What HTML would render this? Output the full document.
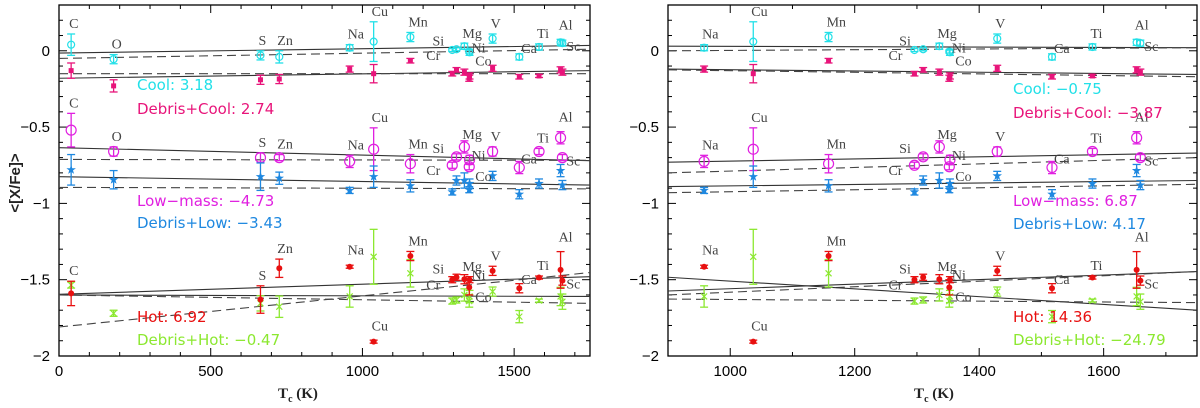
<!DOCTYPE html>
<html><head><meta charset="utf-8">
<style>
html,body{margin:0;padding:0;background:#fff;}
svg{display:block;font-family:"Liberation Sans",sans-serif;}
.lab{font-family:"Liberation Serif",serif;font-size:14px;fill:#444;}
.tick{font-size:15px;fill:#000;}
.leg{font-size:15px;font-family:"DejaVu Sans","Liberation Sans",sans-serif;}
</style></head>
<body>
<svg id="chart" width="1200" height="408" viewBox="0 0 1200 408" xmlns="http://www.w3.org/2000/svg"></svg>
<script>
const elems = ['C','O','S','Zn','Na','Cu','Mn','Cr','Si','Mg','Ni','Co','V','Ca','Ti','Al','Sc'];
const tc    = [40,180,664,726,958,1037,1158,1296,1310,1336,1353,1352,1429,1517,1582,1653,1659];
const cool      = [0.04,-0.055,-0.03,-0.04,0.02,0.06,0.09,0.005,0.01,0.03,-0.01,-0.005,0.08,-0.04,0.025,0.055,0.05];
const coolErr   = [0.07,0.03,0.03,0.04,0.02,0.13,0.03,0.01,0.01,0.02,0.02,0.01,0.03,0.02,0.02,0.02,0.02];
const dCool     = [-0.13,-0.23,-0.19,-0.185,-0.12,-0.15,-0.065,-0.15,-0.125,-0.14,-0.165,-0.18,-0.115,-0.17,-0.165,-0.125,-0.14];
const dCoolErr  = [0.05,0.04,0.03,0.03,0.02,0.06,0.015,0.015,0.015,0.02,0.02,0.02,0.02,0.015,0.01,0.02,0.02];
const low       = [-0.52,-0.66,-0.70,-0.70,-0.725,-0.645,-0.74,-0.75,-0.695,-0.63,-0.715,-0.76,-0.66,-0.765,-0.66,-0.57,-0.70];
const lowErr    = [0.11,0.03,0.03,0.02,0.04,0.14,0.06,0.02,0.02,0.04,0.03,0.02,0.03,0.04,0.02,0.04,0.02];
const dLow      = [-0.78,-0.845,-0.825,-0.835,-0.915,-0.825,-0.885,-0.925,-0.85,-0.85,-0.87,-0.91,-0.82,-0.94,-0.87,-0.785,-0.88];
const dLowErr   = [0.1,0.06,0.09,0.04,0.02,0.07,0.04,0.02,0.03,0.05,0.03,0.02,0.03,0.03,0.03,0.04,0.03];
const hot       = [-1.59,null,-1.63,-1.425,-1.415,-1.906,-1.345,-1.50,-1.484,-1.497,-1.50,-1.55,-1.442,-1.556,-1.486,-1.436,-1.506];
const hotErr    = [0.08,0,0.09,0.06,0.01,0.01,0.03,0.02,0.02,0.03,0.02,0.05,0.03,0.03,0.01,0.12,0.03];
const dHot      = [-1.535,-1.72,-1.655,-1.677,-1.61,-1.35,-1.458,-1.64,-1.633,-1.60,-1.61,-1.64,-1.578,-1.742,-1.637,-1.61,-1.644];
const dHotErr   = [0.02,0.02,0.05,0.07,0.07,0.18,0.09,0.02,0.02,0.04,0.04,0.04,0.03,0.04,0.01,0.06,0.05];
const fitLeftX  = [0,1750];
const fitRightX = [900,1750];
const fitsLeft = {
  coolS:[-0.015,0.035], coolD:[-0.05,0.01], dCoolS:[-0.18,-0.13], dCoolD:[-0.15,-0.15],
  lowS:[-0.635,-0.72], lowD:[-0.712,-0.718], dLowS:[-0.825,-0.88], dLowD:[-0.895,-0.905],
  hotS:[-1.596,-1.48], hotD:[-1.81,-1.453], dHotS:[-1.60,-1.61], dHotD:[-1.60,-1.655]};
const fitsRight = {
  coolS:[0.03,0.02], coolD:[0.0,0.02], dCoolS:[-0.12,-0.155], dCoolD:[-0.125,-0.17],
  lowS:[-0.73,-0.67], lowD:[-0.80,-0.70], dLowS:[-0.89,-0.85], dLowD:[-0.93,-0.875],
  hotS:[-1.574,-1.447], hotD:[-1.60,-1.447], dHotS:[-1.484,-1.70], dHotD:[-1.627,-1.65]};
const legLeft  = ['Cool: 3.18','Debris+Cool: 2.74','Low\u2212mass: \u22124.73','Debris+Low: \u22123.43','Hot: 6.92','Debris+Hot: \u22120.47'];
const legRight = ['Cool: \u22120.75','Debris+Cool: \u22123.87','Low\u2212mass: 6.87','Debris+Low: 4.17','Hot: 14.36','Debris+Hot: \u221224.79'];
const yTicks = [0,-0.5,-1,-1.5,-2];

const NS='http://www.w3.org/2000/svg';
const svg=document.getElementById('chart');
function mk(tag,attrs,parent){const e=document.createElementNS(NS,tag);for(const k in attrs)e.setAttribute(k,attrs[k]);(parent||svg).appendChild(e);return e;}

const C={cool:'#22e0e8',dCool:'#e8147a',low:'#e020e0',dLow:'#1e88e0',hot:'#e81010',dHot:'#8ce830'};
const labOff={Cr:[-26,10],Co:[6,14],Ni:[2,0],Sc:[4,8],Ca:[2,-2],Mg:[-2,-8],Si:[-24,-4]};

function panel(pname,px0,px1,xmin,xmax,xMajor,xMinor,fits,fitX,legend,legX,xTitleX){
  const g=mk('g',{});
  
  
  const top=5,bot=356,ymin=-2,ymax=0.3;
  const X=v=>px0+(v-xmin)/(xmax-xmin)*(px1-px0);
  const Y=v=>bot-(v-ymin)/(ymax-ymin)*(bot-top);
  const clipId=pname+'-clip';
  const cp=mk('clipPath',{id:clipId},g);mk('rect',{x:px0,y:top,width:px1-px0,height:bot-top},cp);
  const frame=mk('rect',{x:px0,y:top,width:px1-px0,height:bot-top,fill:'none',stroke:'#000','stroke-width':1.3},g);
  
  
  for(let v=Math.ceil(xmin/xMinor)*xMinor;v<=xmax+0.01;v+=xMinor){
    const maj=Math.abs(v/xMajor-Math.round(v/xMajor))<1e-6;const L=maj?8:4;const x=X(v);
    mk('line',{x1:x,x2:x,y1:bot,y2:bot-L,stroke:'#000'},g);mk('line',{x1:x,x2:x,y1:top,y2:top+L,stroke:'#000'},g);
    if(maj){const t=mk('text',{x:x,y:bot+20,'text-anchor':'middle',class:'tick'},g);t.textContent=String(v);
      
      }
  }
  for(let i=0;i<=23;i++){const v=ymin+i*0.1;const maj=i%5===0;const L=maj?8:4;const y=Y(v);
    mk('line',{x1:px0,x2:px0+L,y1:y,y2:y,stroke:'#000'},g);mk('line',{x1:px1,x2:px1-L,y1:y,y2:y,stroke:'#000'},g);}
  yTicks.forEach(v=>{const t=mk('text',{x:px0-9,y:Y(v)+5,'text-anchor':'end',class:'tick'},g);
    t.textContent=v===0?'0':'\u2212'+Math.abs(v);
    
    });
  const xt=mk('text',{x:xTitleX,y:398,'text-anchor':'middle','font-size':15,'font-family':'"Liberation Serif",serif','font-weight':'bold',fill:'#222'},g);
  xt.innerHTML='T<tspan font-size="10" dy="4">c</tspan><tspan dy="-4"> (K)</tspan>';
  
  
  const pg=mk('g',{'clip-path':'url(#'+clipId+')'},g);
  const fkeys=[['coolS',0],['coolD',1],['dCoolS',0],['dCoolD',1],['lowS',0],['lowD',1],['dLowS',0],['dLowD',1],['hotS',0],['hotD',1],['dHotS',0],['dHotD',1]];
  fkeys.forEach(([k,d])=>{const f=fits[k];const l=mk('line',{x1:X(fitX[0]),x2:X(fitX[1]),y1:Y(f[0]),y2:Y(f[1]),stroke:d?'#444':'#333','stroke-width':1.1,'stroke-dasharray':d?'9,5':'none'},pg);
    
    });
  const series=[['cool',cool,coolErr,'circle-s'],['dCool',dCool,dCoolErr,'square'],['low',low,lowErr,'circle'],['dLow',dLow,dLowErr,'star'],['dHot',dHot,dHotErr,'cross'],['hot',hot,hotErr,'dot']];
  series.forEach(([name,vals,errs,shape])=>{
    const col=C[name];
    vals.forEach((v,i)=>{
      if(v===null||tc[i]<xmin)return;
      const x=X(tc[i]),y=Y(v),e=errs[i];
      const m=mk('g',{},pg);
      
      
      const y1=Y(v+e),y2=Y(v-e);
      mk('line',{x1:x,x2:x,y1:y1,y2:y2,stroke:col,'stroke-width':1.3},m);
      mk('line',{x1:x-4,x2:x+4,y1:y1,y2:y1,stroke:col,'stroke-width':1.3},m);
      mk('line',{x1:x-4,x2:x+4,y1:y2,y2:y2,stroke:col,'stroke-width':1.3},m);
      if(shape==='circle')mk('circle',{cx:x,cy:y,r:5,fill:'none',stroke:col,'stroke-width':1.2},m);
      else if(shape==='circle-s')mk('circle',{cx:x,cy:y,r:3.5,fill:'none',stroke:col,'stroke-width':1.2},m);
      else if(shape==='square')mk('rect',{x:x-2.5,y:y-2.5,width:5,height:5,fill:col},m);
      else if(shape==='dot')mk('circle',{cx:x,cy:y,r:3,fill:col},m);
      else if(shape==='cross'){mk('path',{d:`M${x-3},${y-3}L${x+3},${y+3}M${x-3},${y+3}L${x+3},${y-3}`,stroke:col,'stroke-width':1.2},m);}
      else if(shape==='star'){let d='';for(let k=0;k<10;k++){const r=k%2?2:5;const a=-Math.PI/2+k*Math.PI/5;d+=(k?'L':'M')+(x+r*Math.cos(a)).toFixed(1)+','+(y+r*Math.sin(a)).toFixed(1);}mk('path',{d:d+'Z',fill:col},m);}
    });
  });
  [[cool,coolErr],[low,lowErr],[hot,hotErr]].forEach(([vals,errs],gi)=>{
    elems.forEach((el,i)=>{
      if(tc[i]<xmin)return;
      let v=vals[i];let e=errs[i];
      if(gi===2&&el==='O')return;
      let dx=-2,dy=-6;const x=X(tc[i]);let y=Y(v+e);
      if(labOff[el]){dx=labOff[el][0];dy=labOff[el][1];y=Y(v);}
      if(gi===2&&el==='Cu'){y=Y(v)-5;}
      if(gi===2&&el==='Na'){y=Y(v)-6;}
      if(el==='Ca')y=Y(v)-2;
      if(el==='Al')y=Y(v+e)-4;
      const t=mk('text',{x:x+dx,y:y+dy,class:'lab'},g);t.textContent=el;
      
      
    });
  });
  const lcols=[C.cool,C.dCool,C.low,C.dLow,C.hot,C.dHot];
  const lys=pname==='left-panel'?[90,114,206,228,322,345]:[94,118,206,229,322,345];
  legend.forEach((s,i)=>{const t=mk('text',{x:legX,y:lys[i],class:'leg',fill:lcols[i]},g);t.textContent=s;
    
    });
}
panel('left-panel',59,590,0,1750,500,100,fitsLeft,fitLeftX,legLeft,137,298);
panel('right-panel',668,1197,900,1750,200,100,fitsRight,fitRightX,legRight,1013,934);
const yt=mk('text',{x:0,y:0,'text-anchor':'middle','font-size':15,'font-weight':'bold',fill:'#222',transform:'translate(20,183) rotate(-90)'});
yt.textContent='<[X/Fe]>';


</script>
</body></html>
